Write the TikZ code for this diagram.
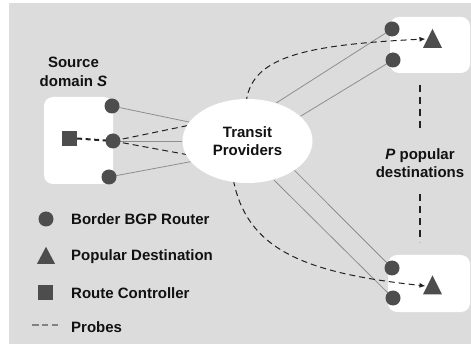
\documentclass[tikz,border=0pt]{standalone}
\usepackage{fontspec}
\setmainfont{Liberation Sans}
\usetikzlibrary{arrows.meta,shapes.geometric}
\definecolor{bg}{HTML}{DCDCDC}
\definecolor{sym}{HTML}{4D4D4D}
\definecolor{lnk}{HTML}{8E8E8E}
\definecolor{prb}{HTML}{222222}
\definecolor{txt}{HTML}{111111}
\pgfdeclarelayer{bgl}
\pgfdeclarelayer{back}
\pgfsetlayers{bgl,back,main}
\begin{document}
\begin{tikzpicture}[x=1pt,y=-1pt,
  font=\fontsize{15}{18.5}\selectfont\bfseries,
  every node/.style={text=txt},
  router/.style={circle,fill=sym,minimum size=15pt,inner sep=0pt},
  lrouter/.style={circle,fill=sym,minimum size=15pt,inner sep=0pt},
  dest/.style={isosceles triangle,shape border rotate=90,isosceles triangle stretches,
    minimum width=19pt,minimum height=19pt,inner sep=0pt,fill=sym,anchor=south},
  ctl/.style={rectangle,fill=sym,minimum size=15pt,inner sep=0pt},
  wbox/.style={rectangle,fill=white,rounded corners=9pt,inner sep=0pt},
  link/.style={lnk,line width=0.8pt},
  probe/.style={prb,line width=1pt,dash pattern=on 6pt off 4pt},
  lbl/.style={anchor=west,inner sep=0pt}
]
\useasboundingbox (0,0) rectangle (471,347);

% boxes
\begin{pgfonlayer}{bgl}
  \fill[bg] (9,3) rectangle (471,344);
  \node[wbox,minimum width=69pt,minimum height=87pt] (srcbox) at (78.5,140.5) {};
  \node[wbox,minimum width=80pt,minimum height=56pt] (dbox1) at (430,45) {};
  \node[wbox,minimum width=82pt,minimum height=57pt] (dbox2) at (429,283.5) {};
\end{pgfonlayer}

% labels
\node[align=center,inner sep=0pt] (srclbl) at (73.5,72) {Source\\domain \textit{S}};
\node[align=center,inner sep=0pt] (plbl) at (420,163) {\textit{P} popular\\destinations};

% transit ellipse
\node[ellipse,fill=white,minimum width=130pt,minimum height=84pt,inner sep=0pt,align=center] (tp) at (247.5,141) {Transit\\Providers};

% source domain
\node[ctl] (rc) at (69.5,138.5) {};
\node[router] (r1) at (112,106) {};
\node[router] (r2) at (113,141) {};
\node[router] (r3) at (109,177) {};

% destinations
\node[router] (d1a) at (392,29) {};
\node[router] (d1b) at (393,60) {};
\node[dest] (t1) at (432.5,48) {};
\node[router] (d2a) at (392,268) {};
\node[router] (d2b) at (393,298) {};
\node[dest] (t2) at (432.5,294.5) {};
\coordinate (tip1) at (425.5,39);
\coordinate (tip2) at (425.5,286);

% vertical dashed marks
\coordinate (v1) at (420,85);
\coordinate (v2) at (420,130);
\coordinate (v3) at (420,194);
\coordinate (v4) at (420,242);
\draw[prb,line width=1.8pt,dash pattern=on 7pt off 5pt] (v1) -- (v2);
\draw[prb,line width=1.8pt,dash pattern=on 7pt off 5pt] (v3) -- (v4);

\begin{pgfonlayer}{back}
  \draw[link] (r1.center) -- (tp.162);
  \draw[link] (r2.center) -- (tp.west);
  \draw[link] (r3.center) -- (tp.200);
  \draw[link] (tp.53) -- (d1a.center);
  \draw[link] (tp.25) -- (d1b.center);
  \draw[link] (tp.-32) -- (d2a.center);
  \draw[link] (tp.-56) -- (d2b.center);
  % probes
  \draw[prb,line width=2pt,dash pattern=on 5pt off 3.5pt] (rc.east) -- (r2.center);
  \draw[probe,-{Latex[length=6pt,width=5pt]}] (r2.center) -- (200,123) -- (246,104)
     .. controls (250,58) and (300,45) .. (tip1);
  \draw[probe,-{Latex[length=6pt,width=5pt]}] (r2.center) -- (200,157) -- (233,178)
     .. controls (246,250) and (305,273) .. (tip2);
\end{pgfonlayer}

% legend
\node[lrouter] (lr) at (46,219) {};
\node[dest,minimum width=18pt,minimum height=17pt] (lt) at (46,264) {};
\node[ctl] (lc) at (45.5,292.5) {};
\coordinate (lp1) at (32,325);
\coordinate (lp2) at (58,325);
\draw[sym!70!white,line width=1.5pt,dash pattern=on 6.5pt off 3.3pt] (lp1) -- (lp2);
\node[lbl] (lrt) at (71,219) {Border BGP Router};
\node[lbl] (ltt) at (71,257) {Popular Destination};
\node[lbl] (lct) at (71,293) {Route Controller};
\node[lbl] (lpt) at (71,327) {Probes};
\end{tikzpicture}
\end{document}
